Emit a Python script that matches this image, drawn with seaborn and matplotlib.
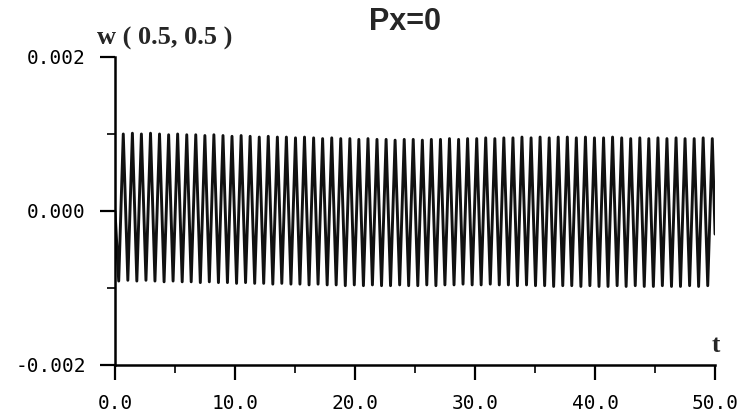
import numpy as np
import pandas as pd
import matplotlib
matplotlib.use("Agg")
import matplotlib.pyplot as plt
import seaborn as sns
from matplotlib.ticker import FormatStrFormatter, MultipleLocator

sns.set_style("ticks")

# ---- data: w(0.5, 0.5) vs t, Px = 0 ----
# times of the crests and troughs of the oscillation
peak_t = [0.69, 1.45, 2.20, 2.96, 3.71, 4.47, 5.22, 5.98, 6.73, 7.49,
          8.24, 9.00, 9.75, 10.51, 11.26, 12.02, 12.77, 13.53, 14.28, 15.04,
          15.79, 16.55, 17.30, 18.06, 18.81, 19.57, 20.32, 21.08, 21.83, 22.59,
          23.34, 24.10, 24.85, 25.61, 26.36, 27.12, 27.87, 28.63, 29.38, 30.14,
          30.89, 31.65, 32.40, 33.16, 33.91, 34.67, 35.42, 36.18, 36.93, 37.69,
          38.44, 39.20, 39.95, 40.71, 41.46, 42.22, 42.97, 43.73, 44.48, 45.24,
          45.99, 46.75, 47.50, 48.26, 49.01, 49.77]
trough_t = [0.31, 1.07, 1.82, 2.58, 3.33, 4.09, 4.84, 5.60, 6.35, 7.11,
            7.86, 8.62, 9.37, 10.13, 10.88, 11.64, 12.39, 13.15, 13.90, 14.66,
            15.41, 16.17, 16.92, 17.68, 18.43, 19.19, 19.94, 20.70, 21.45, 22.21,
            22.96, 23.72, 24.47, 25.23, 25.98, 26.74, 27.49, 28.25, 29.00, 29.76,
            30.51, 31.27, 32.02, 32.78, 33.53, 34.29, 35.04, 35.80, 36.55, 37.31,
            38.06, 38.82, 39.57, 40.33, 41.08, 41.84, 42.59, 43.35, 44.10, 44.86,
            45.61, 46.37, 47.12, 47.88, 48.63, 49.39]
peak_w = [0.00100, 0.00101, 0.00100, 0.00101, 0.00100, 0.00099, 0.00100, 0.00099, 0.00099, 0.00098,
          0.00099, 0.00098, 0.00097, 0.00098, 0.00097, 0.00096, 0.00097, 0.00096, 0.00096, 0.00095,
          0.00096, 0.00095, 0.00094, 0.00095, 0.00094, 0.00094, 0.00093, 0.00094, 0.00093, 0.00093,
          0.00092, 0.00093, 0.00093, 0.00092, 0.00093, 0.00093, 0.00094, 0.00093, 0.00094, 0.00094,
          0.00095, 0.00094, 0.00095, 0.00095, 0.00096, 0.00095, 0.00096, 0.00095, 0.00096, 0.00096,
          0.00095, 0.00096, 0.00095, 0.00095, 0.00096, 0.00095, 0.00094, 0.00095, 0.00094, 0.00095,
          0.00094, 0.00095, 0.00094, 0.00094, 0.00095, 0.00094]
trough_w = [-0.00091, -0.00090, -0.00091, -0.00090, -0.00091, -0.00092, -0.00091, -0.00092, -0.00092, -0.00093,
            -0.00092, -0.00093, -0.00093, -0.00094, -0.00093, -0.00094, -0.00094, -0.00095, -0.00094, -0.00095,
            -0.00095, -0.00096, -0.00095, -0.00096, -0.00096, -0.00097, -0.00096, -0.00097, -0.00096, -0.00097,
            -0.00097, -0.00096, -0.00097, -0.00097, -0.00096, -0.00097, -0.00096, -0.00096, -0.00095, -0.00096,
            -0.00096, -0.00095, -0.00096, -0.00096, -0.00097, -0.00096, -0.00097, -0.00097, -0.00098, -0.00097,
            -0.00097, -0.00098, -0.00097, -0.00098, -0.00098, -0.00097, -0.00098, -0.00097, -0.00098, -0.00098,
            -0.00097, -0.00098, -0.00098, -0.00097, -0.00098, -0.00097]
start_t, start_w = 0.0, 0.0
end_t, end_w = 50.0, -0.0003

x_ticks = [0, 10, 20, 30, 40, 50]
y_ticks = [-0.002, 0.0, 0.002]

# ---- build the trace ----
df = pd.DataFrame({
    "t": [start_t] + trough_t + peak_t + [end_t],
    "w": [start_w] + trough_w + peak_w + [end_w],
}).sort_values("t").reset_index(drop=True)

fig = plt.figure(figsize=(7.39, 4.20), dpi=100)
ax = fig.add_axes([0.1556, 0.131, 0.812, 0.7333])

sns.lineplot(data=df, x="t", y="w", ax=ax, color="#111111", linewidth=2.1,
             estimator=None, sort=False)

ax.set_xlim(0, 50)
ax.set_ylim(-0.002, 0.002)
ax.set_xticks(x_ticks)
ax.set_yticks(y_ticks)
ax.xaxis.set_minor_locator(MultipleLocator(5))
ax.yaxis.set_minor_locator(MultipleLocator(0.001))
ax.xaxis.set_major_formatter(FormatStrFormatter("%.1f"))
ax.yaxis.set_major_formatter(FormatStrFormatter("%.3f"))
ax.set_xlabel("")
ax.set_ylabel("")

sns.despine(ax=ax)
for sp in ["left", "bottom"]:
    ax.spines[sp].set_linewidth(1.8)
    ax.spines[sp].set_color("black")

ax.tick_params(axis="both", which="major", direction="out", length=11, width=1.6,
               pad=10, labelsize=14, colors="black")
ax.tick_params(axis="both", which="minor", direction="out", length=6, width=1.4)
for lab in ax.get_xticklabels() + ax.get_yticklabels():
    lab.set_family("DejaVu Sans Mono")

# titles and axis names
fig.text(97 / 739, 1 - 38 / 420, "w ( 0.5, 0.5 )", family="Liberation Serif",
         fontweight="bold", fontsize=19, ha="left", va="center")
fig.text(405 / 739, 1 - 22 / 420, "Px=0", family="Liberation Sans",
         fontweight="bold", fontsize=22, ha="center", va="center")
fig.text(716 / 739, 1 - 345 / 420, "t", family="Liberation Serif",
         fontweight="bold", fontsize=18, ha="center", va="center")

plt.savefig("out.png", dpi=100)
